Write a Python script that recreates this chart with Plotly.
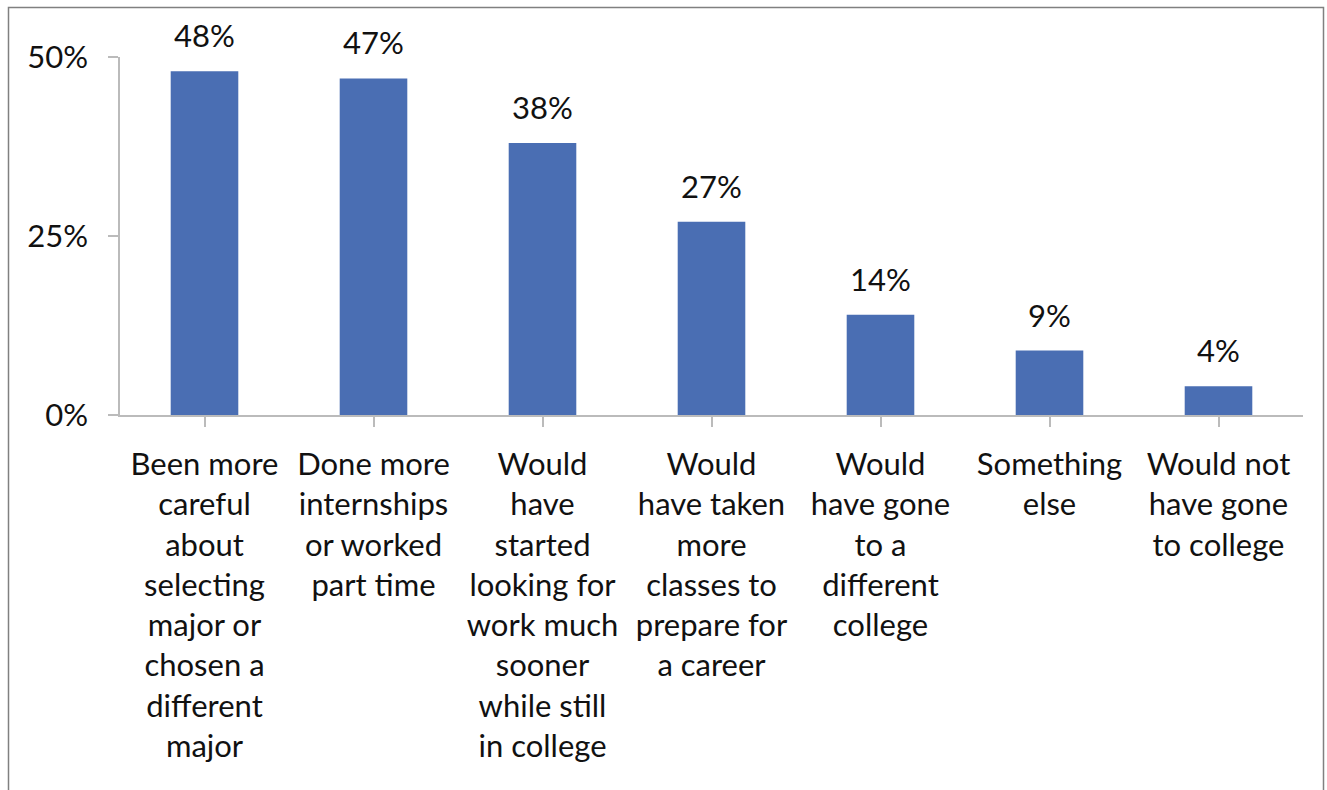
import plotly.graph_objects as go

# Survey responses: what graduates would have done differently
categories = [
    "Been more<br>careful<br>about<br>selecting<br>major or<br>chosen a<br>different<br>major",
    "Done more<br>internships<br>or worked<br>part time",
    "Would<br>have<br>started<br>looking for<br>work much<br>sooner<br>while still<br>in college",
    "Would<br>have taken<br>more<br>classes to<br>prepare for<br>a career",
    "Would<br>have gone<br>to a<br>different<br>college",
    "Something<br>else",
    "Would not<br>have gone<br>to college",
]
shares = [48, 47, 38, 27, 14, 9, 4]
y_ticks = [0, 25, 50]

FONT = "Lato"
SIZE = 31
BAR = "#4A6EB3"
AXIS = "#BBBBBB"
TXT = "#111111"

W, H = 1327, 790
left, right, top, bottom = 120, 24, 57, 375
pw, ph = W - left - right, H - top - bottom

fig = go.Figure(
    go.Bar(
        x=list(range(len(categories))),
        y=shares,
        marker=dict(color=BAR, line=dict(width=0)),
        width=0.4,
        hoverinfo="skip",
    )
)

# value labels above each bar
for i, v in enumerate(shares):
    fig.add_annotation(
        x=i, y=v, text=f"{v}%", showarrow=False,
        xref="x", yref="y", yanchor="bottom", yshift=15,
        font=dict(family=FONT, size=SIZE, color=TXT),
    )

# outer frame of the chart area
def px_x(p):
    return (p - left) / pw

def px_y(p):
    return (H - bottom - p) / ph

fig.add_shape(
    type="rect", xref="paper", yref="paper",
    x0=px_x(8.5), x1=px_x(1323.5), y0=px_y(820), y1=px_y(7.5),
    line=dict(color="#808080", width=1.5), fillcolor="rgba(0,0,0,0)",
    layer="below",
)

fig.update_layout(
    width=W, height=H,
    margin=dict(l=left, r=right, t=top, b=bottom),
    plot_bgcolor="white", paper_bgcolor="white",
    showlegend=False,
    font=dict(family=FONT, size=SIZE, color=TXT),
    xaxis=dict(
        tickmode="array",
        tickvals=list(range(len(categories))),
        ticktext=categories,
        range=[-0.5, len(categories) - 0.5],
        showline=True, linecolor=AXIS, linewidth=1.5,
        ticks="outside", tickson="boundaries", ticklen=10,
        tickcolor=AXIS, tickwidth=1.5,
        showgrid=False, zeroline=False,
        tickangle=0,
        tickfont=dict(family=FONT, size=SIZE, color=TXT),
        ticklabelstandoff=11,
    ),
    yaxis=dict(
        range=[0, 50],
        tickvals=y_ticks,
        ticktext=[f"{t}%" for t in y_ticks],
        showline=True, linecolor=AXIS, linewidth=1.5,
        ticks="outside", ticklen=10, tickcolor=AXIS, tickwidth=1.5,
        showgrid=False, zeroline=False,
        tickfont=dict(family=FONT, size=SIZE, color=TXT),
        ticklabelstandoff=14,
    ),
)

fig.write_html("out.html")
